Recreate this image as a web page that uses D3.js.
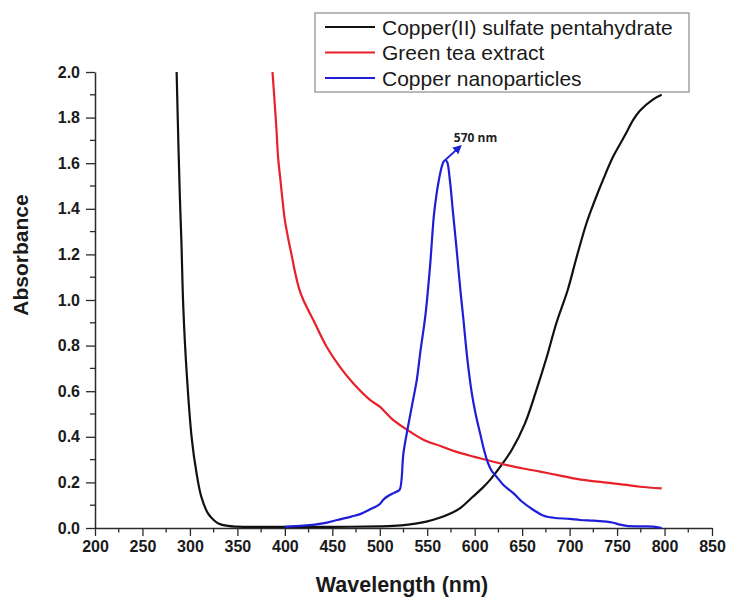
<!DOCTYPE html>
<html>
<head>
<meta charset="utf-8">
<script src="https://cdn.jsdelivr.net/npm/d3@7/dist/d3.min.js"></script>
<style>
  html, body { margin: 0; padding: 0; background: #fff; }
  svg { display: block; font-family: Arial, "Liberation Sans", sans-serif; }
</style>
</head>
<body>
<svg id="chart" width="732" height="597"></svg>
<script>
// ---------- DATA ----------
const seriesNames = ["Copper(II) sulfate pentahydrate", "Green tea extract", "Copper nanoparticles"];
const seriesColors = ["#111111", "#e8202a", "#1e1ed8"];

const copperSulfateWl = [286, 288, 289.5, 291, 293, 296.6, 302, 307, 312, 319, 325, 330, 340, 349, 400, 450, 500, 514, 530, 549, 563, 575, 584, 598, 608, 616, 627, 639, 653, 665, 676, 686, 698, 707.5, 718, 725, 735.5, 746, 758, 767, 774, 788, 797];
const copperSulfateAbs = [2.0, 1.66, 1.44, 1.26, 0.97, 0.68, 0.39, 0.24, 0.137, 0.064, 0.035, 0.02, 0.009, 0.006, 0.005, 0.005, 0.007, 0.009, 0.015, 0.028, 0.045, 0.065, 0.085, 0.137, 0.175, 0.21, 0.269, 0.342, 0.459, 0.605, 0.751, 0.898, 1.044, 1.19, 1.34, 1.42, 1.53, 1.63, 1.72, 1.79, 1.83, 1.88, 1.9];

const greenTeaWl = [387, 391, 393, 395, 398, 400, 404, 407, 411, 415, 419.5, 430, 444, 458, 472, 490, 500, 514, 532, 547, 564, 580, 600, 613, 634, 650, 669, 690, 704, 722, 739, 757, 774, 797];
const greenTeaAbs = [2.0, 1.76, 1.62, 1.54, 1.42, 1.35, 1.26, 1.2, 1.117, 1.05, 1.0, 0.912, 0.795, 0.707, 0.635, 0.561, 0.532, 0.474, 0.422, 0.385, 0.36, 0.335, 0.312, 0.298, 0.276, 0.262, 0.247, 0.23, 0.218, 0.207, 0.199, 0.19, 0.181, 0.174];

const nanoWl = [400, 420, 440, 455, 470, 480, 490, 500, 504, 508, 513, 518, 521, 525, 530, 535, 539, 543, 548, 553, 557, 560, 562, 565, 567, 569, 571, 574, 577, 581, 585, 588, 591, 594, 597, 601, 606, 610, 614, 618, 623, 630, 641, 650, 662, 672, 683, 700, 711, 725, 739, 746, 752, 760, 775, 788, 797];
const nanoAbs = [0.005, 0.01, 0.02, 0.035, 0.05, 0.062, 0.082, 0.105, 0.125, 0.138, 0.15, 0.16, 0.168, 0.33, 0.45, 0.56, 0.65, 0.78, 0.93, 1.15, 1.37, 1.47, 1.52, 1.58, 1.605, 1.614, 1.605, 1.52, 1.39, 1.22, 1.04, 0.92, 0.79, 0.68, 0.59, 0.5, 0.41, 0.34, 0.285, 0.25, 0.225, 0.19, 0.152, 0.115, 0.079, 0.055, 0.045, 0.04, 0.035, 0.032, 0.028, 0.023, 0.016, 0.009, 0.007, 0.006, 0.0];

const xTicks = [200, 250, 300, 350, 400, 450, 500, 550, 600, 650, 700, 750, 800, 850];
const yTicks = [0.0, 0.2, 0.4, 0.6, 0.8, 1.0, 1.2, 1.4, 1.6, 1.8, 2.0];
const xMinorTicks = d3.range(225, 850, 50);
const yMinorTicks = d3.range(0.1, 2.0, 0.2);

const annotationText = "570 nm";
const annotationFrom = [569, 1.614];
const annotationTo = [585, 1.675];
const annotationTextAt = [578, 1.695];

const xLabel = "Wavelength (nm)";
const yLabel = "Absorbance";

// ---------- LAYOUT ----------
const svg = d3.select("#chart");
const x = d3.scaleLinear().domain([200, 850]).range([95, 712]);
const y = d3.scaleLinear().domain([0, 2.0]).range([528, 72]);

const axisColor = "#2a2a2a";

// X axis
const gx = svg.append("g").attr("transform", `translate(0,${y(0)})`);
gx.call(d3.axisBottom(x).tickValues(xTicks).tickFormat(d3.format("d")).tickSize(8).tickSizeOuter(0).tickPadding(5));
gx.append("g").selectAll("line").data(xMinorTicks).join("line")
  .attr("x1", d => x(d)).attr("x2", d => x(d)).attr("y1", 0).attr("y2", 4.5)
  .attr("stroke", axisColor).attr("stroke-width", 1.3);

// Y axis
const gy = svg.append("g").attr("transform", `translate(${x(200)},0)`);
gy.call(d3.axisLeft(y).tickValues(yTicks).tickFormat(d3.format(".1f")).tickSize(9).tickSizeOuter(0).tickPadding(6));
gy.append("g").selectAll("line").data(yMinorTicks).join("line")
  .attr("y1", d => y(d)).attr("y2", d => y(d)).attr("x1", 0).attr("x2", -5)
  .attr("stroke", axisColor).attr("stroke-width", 1.3);

[gx, gy].forEach(g => {
  g.select(".domain").attr("stroke", axisColor).attr("stroke-width", 1.5);
  g.selectAll(".tick line").attr("stroke", axisColor).attr("stroke-width", 1.3);
  g.selectAll(".tick text").attr("fill", "#1a1a1a")
    .style("font-size", "16px").style("font-weight", "bold")
    .style("font-family", "Arial, 'Liberation Sans', sans-serif");
});

// Axis titles
svg.append("text").attr("x", 402).attr("y", 592).attr("text-anchor", "middle")
  .style("font-size", "21.5px").style("font-weight", "bold").attr("fill", "#1a1a1a").text(xLabel);
svg.append("text").attr("transform", "translate(28,255) rotate(-90)").attr("text-anchor", "middle")
  .style("font-size", "21px").style("font-weight", "bold").attr("fill", "#1a1a1a").text(yLabel);

// Lines
const lineGen = d3.line().x(d => x(d[0])).y(d => y(d[1])).curve(d3.curveCatmullRom.alpha(0.5));
const series = [
  d3.zip(copperSulfateWl, copperSulfateAbs),
  d3.zip(greenTeaWl, greenTeaAbs),
  d3.zip(nanoWl, nanoAbs)
];
series.forEach((s, i) => {
  svg.append("path").datum(s).attr("d", lineGen).attr("fill", "none")
    .attr("stroke", seriesColors[i]).attr("stroke-width", 2.2).attr("stroke-linejoin", "round");
});

// Annotation arrow
const defs = svg.append("defs");
defs.append("marker").attr("id", "arrow").attr("viewBox", "0 0 10 10").attr("refX", 8).attr("refY", 5)
  .attr("markerWidth", 5).attr("markerHeight", 5).attr("orient", "auto")
  .append("path").attr("d", "M0,0 L10,5 L0,10 z").attr("fill", seriesColors[2]);
svg.append("line")
  .attr("x1", x(annotationFrom[0])).attr("y1", y(annotationFrom[1]))
  .attr("x2", x(annotationTo[0])).attr("y2", y(annotationTo[1]))
  .attr("stroke", seriesColors[2]).attr("stroke-width", 1.8).attr("marker-end", "url(#arrow)");
svg.append("text").attr("x", x(annotationTextAt[0])).attr("y", y(annotationTextAt[1]))
  .style("font-size", "12px").style("font-weight", "bold").attr("fill", "#222")
  .style("font-family", "'Open Sans', Arial, sans-serif").text(annotationText);

// Legend
const lg = svg.append("g");
lg.append("rect").attr("x", 315).attr("y", 13).attr("width", 374).attr("height", 79)
  .attr("fill", "#fff").attr("stroke", "#8a8a8a").attr("stroke-width", 1.2);
seriesNames.forEach((name, i) => {
  const cy = 27 + i * 25.5;
  lg.append("line").attr("x1", 325).attr("x2", 375).attr("y1", cy).attr("y2", cy)
    .attr("stroke", seriesColors[i]).attr("stroke-width", 2.2);
  lg.append("text").attr("x", 382).attr("y", cy + 7.5)
    .style("font-size", "21px").attr("fill", "#1a1a1a").text(name);
});
</script>
</body>
</html>
